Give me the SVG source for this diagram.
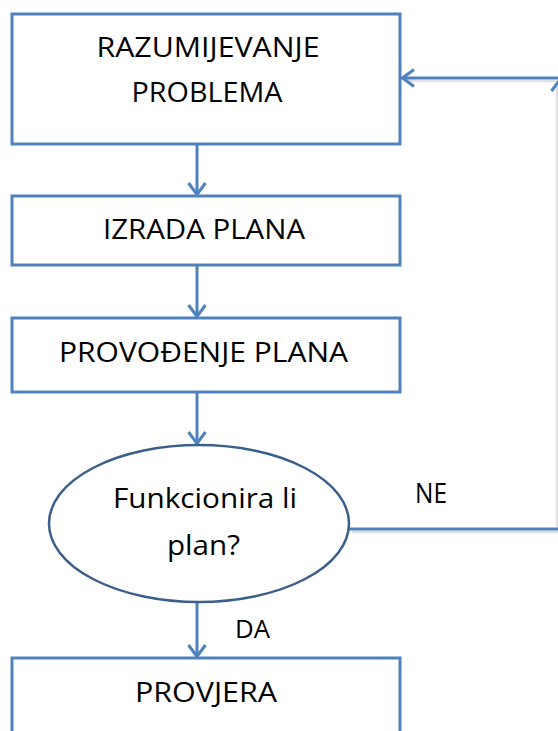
<svg xmlns="http://www.w3.org/2000/svg" width="558" height="731" viewBox="0 0 558 731">
<style>
.box{fill:#fff;stroke:#4F81BD;stroke-width:3}
.ell{fill:#fff;stroke:#3A5F8B;stroke-width:2.5}
.con{fill:none;stroke:#4F81BD;stroke-width:3}
.sh{fill:none;stroke:#e0e0e0;stroke-width:2.5}
text{font-family:"Open Sans","Liberation Sans",Arial,sans-serif;font-size:27px;fill:#000}
.c{text-anchor:middle}
</style>
<defs>
<marker id="arr" viewBox="0 0 14 20" refX="13" refY="10" markerWidth="14" markerHeight="20" markerUnits="userSpaceOnUse" orient="auto">
<path d="M1,1.5 L12.5,10 L1,18.5" fill="none" stroke="#4F81BD" stroke-width="3"/>
</marker>
</defs>
<g id="connectors">
<line class="sh" x1="557" y1="86" x2="557" y2="527"/>
<line class="sh" x1="352" y1="532" x2="558" y2="532"/>
<line class="sh" x1="408" y1="81" x2="556" y2="81"/>
<line class="con" x1="197" y1="144" x2="197" y2="195" marker-end="url(#arr)"/>
<line class="con" x1="197" y1="265" x2="197" y2="317" marker-end="url(#arr)"/>
<line class="con" x1="197" y1="392" x2="197" y2="444" marker-end="url(#arr)"/>
<line class="con" x1="197" y1="602" x2="197" y2="657" marker-end="url(#arr)"/>
<line class="con" x1="349" y1="529" x2="561" y2="529"/>
<line class="con" x1="560" y1="529" x2="560" y2="79" marker-end="url(#arr)"/>
<line class="con" x1="560" y1="78" x2="402" y2="78" marker-end="url(#arr)"/>
<text x="415" y="503" textLength="32" lengthAdjust="spacingAndGlyphs" style="font-size:27px">NE</text>
<text x="235" y="638" textLength="35" lengthAdjust="spacingAndGlyphs" style="font-size:25px">DA</text>
</g>
<g id="n1">
<rect class="box" x="12" y="14" width="388" height="130"/>
<text class="c" x="208" y="57" textLength="223" lengthAdjust="spacingAndGlyphs">RAZUMIJEVANJE</text>
<text class="c" x="207" y="102" textLength="151" lengthAdjust="spacingAndGlyphs">PROBLEMA</text>
</g>
<g id="n2">
<rect class="box" x="12" y="196" width="388" height="69"/>
<text class="c" x="204" y="239" textLength="202" lengthAdjust="spacingAndGlyphs">IZRADA PLANA</text>
</g>
<g id="n3">
<rect class="box" x="12" y="318" width="388" height="74"/>
<text class="c" x="203.5" y="362" textLength="289" lengthAdjust="spacingAndGlyphs">PROVOĐENJE PLANA</text>
</g>
<g id="n4">
<ellipse class="ell" cx="199" cy="523.5" rx="150" ry="78.5"/>
<text class="c" x="205" y="508" textLength="184" lengthAdjust="spacingAndGlyphs">Funkcionira li</text>
<text class="c" x="203.5" y="555" textLength="73" lengthAdjust="spacingAndGlyphs">plan?</text>
</g>
<g id="n5">
<rect class="box" x="12" y="658" width="388" height="100"/>
<text class="c" x="206" y="702" textLength="142" lengthAdjust="spacingAndGlyphs">PROVJERA</text>
</g>
</svg>
